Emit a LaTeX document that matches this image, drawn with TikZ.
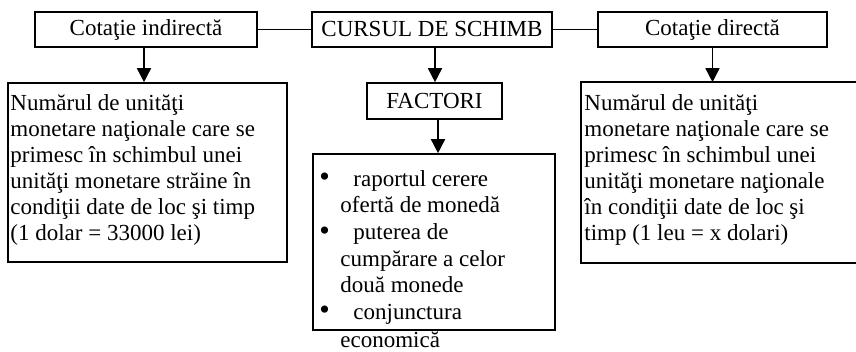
\documentclass[tikz,border=0pt]{standalone}
\usepackage{fontspec}
\setmainfont{Liberation Serif}
\usetikzlibrary{arrows.meta}
\newcommand{\blt}{\makebox[17pt][l]{\fontsize{15}{13}\selectfont\raisebox{-0.3pt}{•}}}
\begin{document}
\begin{tikzpicture}[x=0.5pt,y=-0.5pt,
  box/.style={draw, line width=0.8pt, inner sep=0pt, font=\fontsize{11.5}{13}\selectfont},
  txt/.style={inner sep=0pt, anchor=north west, align=left, font=\fontsize{11.5}{13}\selectfont},
  arr/.style={line width=0.8pt, -{Triangle[width=7pt,length=7pt]}},
  lnk/.style={line width=0.8pt}]
\useasboundingbox (0,0) rectangle (856,352);
\clip (0,0) rectangle (856,352);
% top row
\node[box, minimum width=111pt, minimum height=17.5pt] (ind) at (146,29.5) {Cotaţie indirectă};
\node[box, minimum width=120pt, minimum height=17.5pt] (curs) at (432,29.5) {CURSUL DE SCHIMB};
\node[box, minimum width=114.5pt, minimum height=17.5pt] (dir) at (712.5,29.5) {Cotaţie directă};
% second row
\node[box, minimum width=139.5pt, minimum height=89.5pt] (left) at (147.5,172.5) {};
\node[box, minimum width=67.5pt, minimum height=18pt] (fact) at (434.5,101) {FACTORI};
\node[box, draw=none, minimum width=300pt, minimum height=89.5pt] (right) at (882,172.5) {};
\draw[lnk] (right.north east) -- (right.north west) -- (right.south west) -- (right.south east);
\node[box, minimum width=121pt, minimum height=88pt] (list) at (434,242) {};
% texts
\node[txt] (lefttext) at (10,94) {Numărul de unităţi\\monetare naţionale care se\\primesc în schimbul unei\\unităţi monetare străine în\\condiţii date de loc şi timp\\(1 dolar = 33000 lei)};
\node[txt] (righttext) at (584,94) {Numărul de unităţi\\monetare naţionale care se\\primesc în schimbul unei\\unităţi monetare naţionale\\în condiţii date de loc şi\\timp (1 leu = x dolari)};
\node[txt, font=\fontsize{11.5}{13.3}\selectfont] (listtext) at (319,170) {\blt raportul cerere\\\hspace*{10.5pt}ofertă de monedă\\\blt puterea de\\\hspace*{10.5pt}cumpărare a celor\\\hspace*{10.5pt}două monede\\\blt conjunctura\\[1pt]\hspace*{10.5pt}economică};
% connectors
\draw[lnk] (ind.east) -- (curs.west);
\draw[lnk] (curs.east) -- (dir.west);
\draw[arr] ([xshift=-1pt]ind.south) -- ([xshift=-1pt]ind.south |- left.north);
\draw[arr] ([xshift=1.5pt]curs.south) -- ([xshift=1.5pt]curs.south |- fact.north);
\draw[arr] ([xshift=1.75pt]fact.south) -- ([xshift=1.75pt]fact.south |- list.north);
\draw[arr] (dir.south) -- (dir.south |- right.north);
\end{tikzpicture}
\end{document}
